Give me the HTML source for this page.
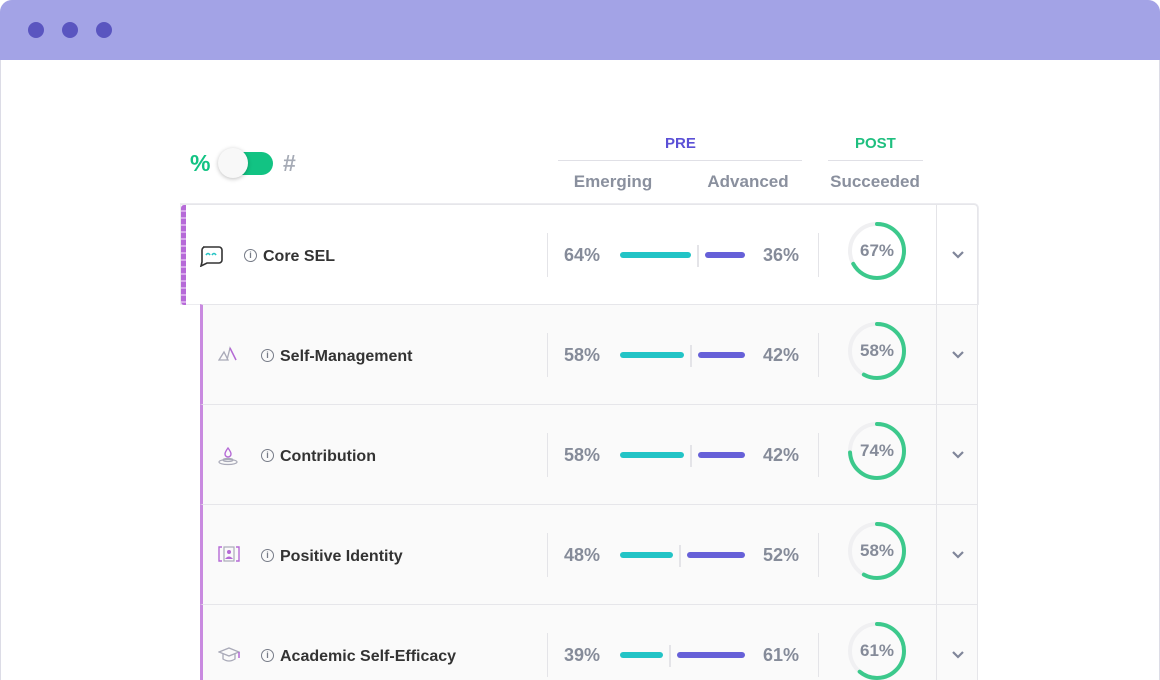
<!DOCTYPE html>
<html><head><meta charset="utf-8">
<style>
*{box-sizing:border-box;margin:0;padding:0}
html,body{width:1160px;height:680px;overflow:hidden}
body{background:#fff;font-family:"Liberation Sans",sans-serif;position:relative}
.abs{position:absolute}
#frame{left:0;top:0;width:1160px;height:680px;border:1px solid #dcdce6;border-bottom:none;border-radius:12px 12px 0 0;overflow:hidden}
#titlebar{left:0;top:0;width:1160px;height:60px;background:#a3a3e6;border-radius:12px 12px 0 0}
.dot{width:16px;height:16px;border-radius:50%;background:#5a55c0;top:22px}
.hdr{font-size:17px;font-weight:bold;color:#8a909e;transform:translateX(-50%);top:172px;white-space:nowrap}
.row{left:181px;width:797px;height:100px;border-top:1px solid #e6e6ea}
.lbl{font-size:16px;font-weight:bold;color:#333;top:43px;white-space:nowrap}
.pct{font-size:18px;font-weight:bold;color:#858b99;top:40px}
.info{width:13px;height:13px;border:1.5px solid #777c88;border-radius:50%;top:44px;font-size:9px;color:#777c88;text-align:center;line-height:10px;font-weight:bold}
.vsep{width:1px;background:#e4e4e8}
</style></head><body>
<div id="frame" class="abs"></div>
<div id="titlebar" class="abs"></div>
<div class="abs dot" style="left:28px"></div>
<div class="abs dot" style="left:62px"></div>
<div class="abs dot" style="left:96px"></div>

<div class="abs" style="left:190px;top:150px;font-size:23px;font-weight:bold;color:#12c383">%</div>
<div class="abs" style="left:220px;top:152px;width:53px;height:23px;border-radius:12px;background:#12c383"></div>
<div class="abs" style="left:218px;top:148px;width:30px;height:30px;border-radius:50%;background:#f8f8f8;box-shadow:0 1px 4px rgba(0,0,0,.25)"></div>
<div class="abs" style="left:283px;top:150px;font-size:23px;font-weight:bold;color:#a6abb6">#</div>

<div class="abs" style="left:665px;top:135px;font-size:15px;font-weight:bold;color:#5b50d6">PRE</div>
<div class="abs" style="left:558px;top:160px;width:244px;height:1px;background:#e0e0e6"></div>
<div class="abs" style="left:855px;top:135px;font-size:15px;font-weight:bold;color:#1fbf7f">POST</div>
<div class="abs" style="left:828px;top:160px;width:95px;height:1px;background:#e0e0e6"></div>
<div class="abs hdr" style="left:613px">Emerging</div>
<div class="abs hdr" style="left:748px">Advanced</div>
<div class="abs hdr" style="left:875px">Succeeded</div>

<div id="table" class="abs" style="left:0;top:0"></div>

<script>
const labels=["Core SEL","Self-Management","Contribution","Positive Identity","Academic Self-Efficacy"];
const emerging=[64,58,58,48,39];
const advanced=[36,42,42,52,61];
const succeeded=[67,58,74,58,61];

const iconSvgs=[
 '<svg width="24" height="22"><path d="M4 2h16a3 3 0 0 1 3 3v10a3 3 0 0 1-3 3H8l-6 3 1-4V5a3 3 0 0 1 3-3z" fill="none" stroke="#333" stroke-width="1.6"/><path d="M7 10q2-3 4 0M13 10q2-3 4 0" fill="none" stroke="#26c4c4" stroke-width="1.6"/></svg>',
 '<svg width="20" height="16"><path d="M1 14L6 6l4 8zM9 14L12 2l6 12" fill="none" stroke="#a9aab8" stroke-width="1.3"/><path d="M12 2l6 12" stroke="#b56ad6" stroke-width="1.5"/></svg>',
 '<svg width="20" height="20"><path d="M10 2q-3 4-3 6a3 3 0 0 0 6 0q0-2-3-6z" fill="none" stroke="#b56ad6" stroke-width="1.4"/><ellipse cx="10" cy="14" rx="5" ry="1.5" fill="none" stroke="#a9aab8" stroke-width="1.2"/><ellipse cx="10" cy="16" rx="9" ry="2.5" fill="none" stroke="#a9aab8" stroke-width="1.2"/></svg>',
 '<svg width="22" height="16"><path d="M4 1H1v14h3M18 1h3v14h-3" fill="none" stroke="#b56ad6" stroke-width="1.4"/><rect x="6" y="1" width="10" height="14" fill="none" stroke="#a9aab8" stroke-width="1.2"/><circle cx="11" cy="6" r="2" fill="#b56ad6"/><path d="M7 13q4-5 8 0z" fill="#b56ad6"/></svg>',
 '<svg width="22" height="18"><path d="M1 6l10-4 10 4-10 4z" fill="none" stroke="#a9aab8" stroke-width="1.3"/><path d="M5 8v5q6 4 12 0V8" fill="none" stroke="#a9aab8" stroke-width="1.3"/><path d="M21 6v6" stroke="#b56ad6" stroke-width="1.5"/></svg>'
];

const T=document.getElementById('table');
const barStart=620, barTotal=111, gap=14;
labels.forEach((lab,i)=>{
  const top=204+i*100, core=i===0;
  const r=document.createElement('div');
  r.className='abs row';
  r.style.top=top+'px';
  r.style.background=core?'#fff':'#fafafa';
  r.style.borderRight='1px solid #e6e6ea';
  let off;
  if(core){r.style.borderLeft='none';r.style.borderTopRightRadius='4px';r.style.boxShadow='0 0 0 1px #ececf0';off=181;
    const d=document.createElement('div');d.className='abs';Object.assign(d.style,{left:'0',top:'0',width:'5px',height:'100px',background:'repeating-linear-gradient(#b66ad8 0 5px,#d8a8ec 5px 7px)',borderRadius:'3px 0 0 3px'});
    
    
    r.appendChild(d);}
  else{r.style.left='200px';r.style.width='778px';r.style.borderLeft='3px solid #c98ae0';off=203;}
  
  
  T.appendChild(r);
  const add=(html,cls,x,name,inter,extra)=>{const e=document.createElement('div');e.className='abs '+cls;e.style.left=(x-off)+'px';e.innerHTML=html;if(extra)Object.assign(e.style,extra);
    
    
    r.appendChild(e);return e;};
  add(iconSvgs[i],'',core?199:218,'icon-'+i,'false',{top:core?'40px':'41px'});
  const lx=core?244:261;
  add('i','info',lx,'info-icon-'+i,'true');
  add(lab,'lbl',lx+19,'label-'+i,'false');
  add('','vsep',547,'sep-a-'+i,'false',{top:'28px',height:'44px'});
  add('','vsep',818,'sep-b-'+i,'false',{top:'28px',height:'44px'});
  add('','vsep',936,'sep-c-'+i,'false',{top:'0',height:'100px'});
  add(emerging[i]+'%','pct',564,'emerging-value-'+i,'false');
  add(advanced[i]+'%','pct',763,'advanced-value-'+i,'false');
  const tw=barTotal*emerging[i]/100, pw=barTotal*advanced[i]/100;
  add('','',barStart,'emerging-bar-'+i,'false',{top:'47px',width:tw+'px',height:'6px',borderRadius:'3px',background:'#22c4c6'});
  add('','',barStart+tw+gap/2-1,'bar-divider-'+i,'false',{top:'40px',width:'2px',height:'22px',background:'#e4e4e8'});
  add('','',barStart+tw+gap,'advanced-bar-'+i,'false',{top:'47px',width:pw+'px',height:'6px',borderRadius:'3px',background:'#6660d8'});
  const R=27,C=2*Math.PI*R,v=succeeded[i]/100;
  add('<svg width="64" height="64"><circle cx="32" cy="32" r="'+R+'" fill="none" stroke="#f0f0f2" stroke-width="4"/><circle cx="32" cy="32" r="'+R+'" fill="none" stroke="#3cc98c" stroke-width="4" stroke-linecap="round" stroke-dasharray="'+(C*v)+' '+C+'" transform="rotate(-90 32 32)"/><text x="32" y="37" text-anchor="middle" font-size="17" font-weight="bold" fill="#858b99" font-family="Liberation Sans">'+succeeded[i]+'%</text></svg>','',845,'succeeded-ring-'+i,'false',{top:'14px'});
  add('<svg width="14" height="10"><path d="M2 2l5 5 5-5" fill="none" stroke="#80869a" stroke-width="2.2"/></svg>','',951,'expand-chevron-'+i,'true',{top:'42px'});
});
</script>
</body></html>
